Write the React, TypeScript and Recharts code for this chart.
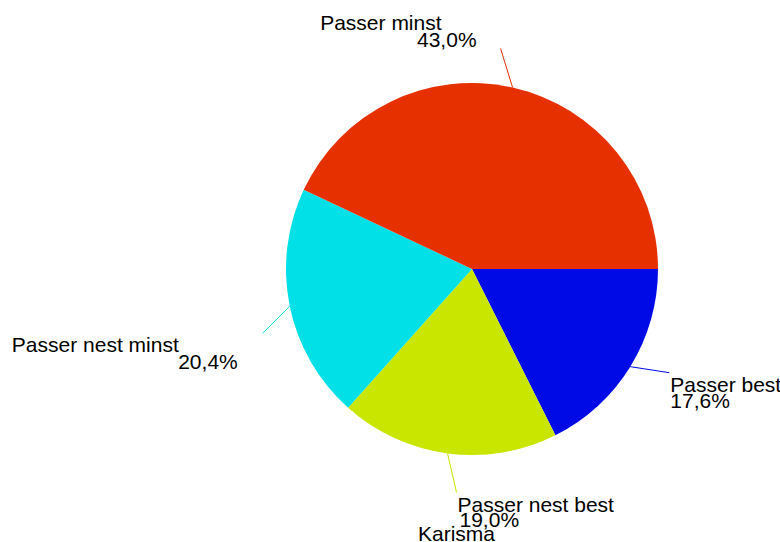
import { PieChart, Pie, Cell } from "recharts";

const categories = ["Passer best", "Passer nest best", "Passer nest minst", "Passer minst"];
const shares = [17.6, 19.0, 20.4, 43.0];
const colors = ["#000ae6", "#c8e600", "#00e0e6", "#e63000"];
const title = "Karisma";

// leader line end (relative to slice edge midpoint) and text placement
const labelLayout = [
  { lx: 39, ly: 6, anchor: "start", nx: 1, ny: 19, px: 1, py: 35 },
  { lx: 9, ly: 39, anchor: "start", nx: 1, ny: 20, px: 3, py: 35 },
  { lx: -27, ly: 27, anchor: "end", nx: -84, ny: 19, px: -25, py: 36 },
  { lx: -12, ly: -39, anchor: "end", nx: -59, ny: -18, px: -24, py: -1 },
];

const RADIAN = Math.PI / 180;
const fmt = (v: number) => v.toFixed(1).replace(".", ",") + "%";

const data = categories.map((name, i) => ({ name, value: shares[i] }));

const renderLabel = (props: any) => {
  const { cx, cy, midAngle, outerRadius, index, name, value } = props;
  const l = labelLayout[index];
  const sx = cx + outerRadius * Math.cos(-midAngle * RADIAN);
  const sy = cy + outerRadius * Math.sin(-midAngle * RADIAN);
  const ex = sx + l.lx;
  const ey = sy + l.ly;
  const textStyle = { fontFamily: "'Liberation Sans', Arial, sans-serif", fontSize: 21 };
  return (
    <g key={`lbl-${index}`}>
      <line x1={sx} y1={sy} x2={ex} y2={ey} stroke={colors[index]} strokeWidth={1} />
      <text x={ex + l.nx} y={ey + l.ny} textAnchor={l.anchor} fill="#000" style={textStyle}>
        {name}
      </text>
      <text x={ex + l.px} y={ey + l.py} textAnchor={l.anchor} fill="#000" style={textStyle}>
        {fmt(value)}
      </text>
    </g>
  );
};

export default function App() {
  return (
    <div style={{ position: "absolute", left: 0, top: 0, width: 780, height: 542, background: "#fff", overflow: "hidden" }}>
      <PieChart width={780} height={542} margin={{ top: 0, right: 0, bottom: 0, left: 0 }}>
        <Pie
          data={data}
          dataKey="value"
          nameKey="name"
          cx={472}
          cy={269}
          outerRadius={186}
          startAngle={0}
          endAngle={-360}
          stroke="none"
          label={renderLabel}
          labelLine={false}
          isAnimationActive={false}
        >
          {data.map((entry, index) => (
            <Cell key={`cell-${index}`} fill={colors[index]} />
          ))}
        </Pie>
      </PieChart>
      <div
        style={{
          position: "absolute",
          left: 418,
          top: 522,
          fontFamily: "'Liberation Sans', Arial, sans-serif",
          fontSize: 21,
          lineHeight: "24px",
          color: "#000",
          whiteSpace: "nowrap",
        }}
      >
        {title}
      </div>
    </div>
  );
}
